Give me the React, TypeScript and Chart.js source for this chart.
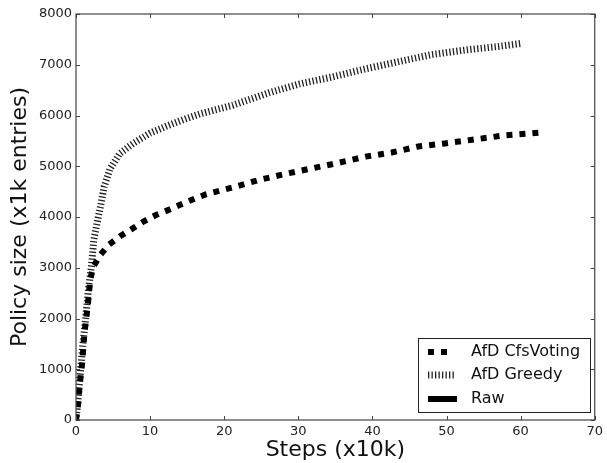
import React, { useEffect, useRef } from "react";
import { Chart, registerables } from "chart.js";

Chart.register(...registerables);

const seriesNames = ["AfD CfsVoting", "AfD Greedy", "Raw"];

const votingX = [0, 0.31, 0.45, 0.63, 0.85, 1.12, 1.34, 1.57, 1.75, 1.93, 2.33, 3.32, 4.48, 6.05, 7.5, 9.1, 10.8, 12.5, 14.2, 16, 17.6, 21.1, 24.7, 28.3, 31.9, 35.5, 39.1, 42.6, 46.2, 49.8, 53.9, 57.9, 61.5, 63.0];
const votingY = [0, 330, 610, 870, 1140, 1690, 1960, 2230, 2500, 2770, 3020, 3260, 3460, 3630, 3760, 3910, 4040, 4140, 4250, 4360, 4450, 4580, 4730, 4850, 4960, 5070, 5190, 5270, 5390, 5450, 5530, 5610, 5650, 5670];

const greedyX = [0, 0.3, 0.6, 0.9, 1.3, 1.7, 2.1, 2.4, 3.0, 3.3, 3.8, 4.6, 5.9, 7.7, 9.95, 12.2, 14.9, 16.7, 21.1, 26.1, 30.1, 34.6, 39.1, 43.5, 48.0, 52.5, 57.0, 60.1];
const greedyY = [0, 450, 950, 1450, 2000, 2600, 3050, 3550, 4000, 4200, 4600, 4950, 5250, 5450, 5650, 5790, 5940, 6030, 6200, 6450, 6620, 6760, 6920, 7060, 7200, 7290, 7360, 7420];

const rawX = [0];
const rawY = [0];

const xTicks = [0, 10, 20, 30, 40, 50, 60, 70];
const yTicks = [0, 1000, 2000, 3000, 4000, 5000, 6000, 7000, 8000];

const FONT = "'DejaVu Sans', sans-serif";

const zip = (xs: number[], ys: number[]) => xs.map((x, i) => ({ x, y: ys[i] }));

const framePlugin = {
  id: "frameAndLegend",
  afterDraw(chart: any) {
    const ctx = chart.ctx;
    const { left, right, top, bottom } = chart.chartArea;
    const xs = chart.scales.x;
    const ys = chart.scales.y;
    ctx.save();
    ctx.strokeStyle = "#444";
    ctx.lineWidth = 1.2;
    ctx.strokeRect(left, top, right - left, bottom - top);
    ctx.lineWidth = 1;
    ctx.beginPath();
    xTicks.forEach((v) => {
      const px = Math.round(xs.getPixelForValue(v)) + 0.5;
      ctx.moveTo(px, bottom);
      ctx.lineTo(px, bottom - 4);
      ctx.moveTo(px, top);
      ctx.lineTo(px, top + 4);
    });
    yTicks.forEach((v) => {
      const py = Math.round(ys.getPixelForValue(v)) + 0.5;
      ctx.moveTo(left, py);
      ctx.lineTo(left + 4, py);
      ctx.moveTo(right, py);
      ctx.lineTo(right - 4, py);
    });
    ctx.stroke();

    // legend
    const bx = 418, by = 338, bw = 172, bh = 74;
    ctx.fillStyle = "#fff";
    ctx.fillRect(bx, by, bw, bh);
    ctx.strokeStyle = "#222";
    ctx.lineWidth = 1;
    ctx.strokeRect(bx + 0.5, by + 0.5, bw, bh);
    const rows = [352, 375, 399];
    const ends = [454, 456, 457];
    chart.data.datasets.forEach((ds: any, i: number) => {
      const y = rows[i];
      ctx.save();
      ctx.strokeStyle = ds.borderColor;
      ctx.lineWidth = ds.borderWidth;
      ctx.setLineDash(ds.borderDash || []);
      ctx.beginPath();
      ctx.moveTo(428, y);
      ctx.lineTo(ends[i], y);
      ctx.stroke();
      ctx.restore();
      ctx.fillStyle = "#111";
      ctx.font = `16px ${FONT}`;
      ctx.textBaseline = "middle";
      ctx.textAlign = "left";
      ctx.fillText(ds.label, 471, y);
    });
    ctx.restore();
  },
};

export default function App() {
  const ref = useRef<HTMLCanvasElement | null>(null);
  useEffect(() => {
    if (!ref.current) return;
    const chart = new Chart(ref.current, {
      type: "line",
      data: {
        datasets: [
          {
            label: seriesNames[0],
            data: zip(votingX, votingY),
            borderColor: "#000",
            borderWidth: 6,
            borderDash: [6, 7],
            pointRadius: 0,
            fill: false,
            tension: 0,
          },
          {
            label: seriesNames[1],
            data: zip(greedyX, greedyY),
            borderColor: "#222",
            borderWidth: 7,
            borderDash: [1.3, 2.2],
            pointRadius: 0,
            fill: false,
            tension: 0,
          },
          {
            label: seriesNames[2],
            data: zip(rawX, rawY),
            borderColor: "#000",
            borderWidth: 6,
            pointRadius: 0,
            fill: false,
            tension: 0,
          },
        ],
      },
      options: {
        animation: false,
        responsive: false,
        maintainAspectRatio: false,
        layout: { padding: { left: 0, right: 10, top: 14, bottom: 0 } },
        plugins: { legend: { display: false }, tooltip: { enabled: false } },
        scales: {
          x: {
            type: "linear",
            min: 0,
            max: 70,
            afterFit: (s: any) => {
              s.height = 43;
            },
            afterBuildTicks: (s: any) => {
              s.ticks = xTicks.map((v) => ({ value: v }));
            },
            grid: { display: false, drawTicks: false },
            border: { display: false },
            ticks: { color: "#222", font: { family: FONT, size: 13 }, padding: 4, maxRotation: 0, callback: (v: any) => String(v) },
            title: { display: true, text: "Steps (x10k)", color: "#111", font: { family: FONT, size: 22 }, padding: 0 },
          },
          y: {
            type: "linear",
            min: 0,
            max: 8000,
            afterFit: (s: any) => {
              s.width = 76;
            },
            afterBuildTicks: (s: any) => {
              s.ticks = yTicks.map((v) => ({ value: v }));
            },
            grid: { display: false, drawTicks: false },
            border: { display: false },
            ticks: { color: "#222", font: { family: FONT, size: 13 }, padding: 4, callback: (v: any) => String(v) },
            title: { display: true, text: "Policy size (x1k entries)", color: "#111", font: { family: FONT, size: 22 }, padding: { top: 7, bottom: 0 } },
          },
        },
      },
      plugins: [framePlugin],
    });
    return () => chart.destroy();
  }, []);
  return (
    <div style={{ position: "fixed", left: 0, top: 0, width: 607, height: 463, background: "#fff" }}>
      <canvas ref={ref} width={607} height={463} style={{ width: 607, height: 463, display: "block" }} />
    </div>
  );
}
